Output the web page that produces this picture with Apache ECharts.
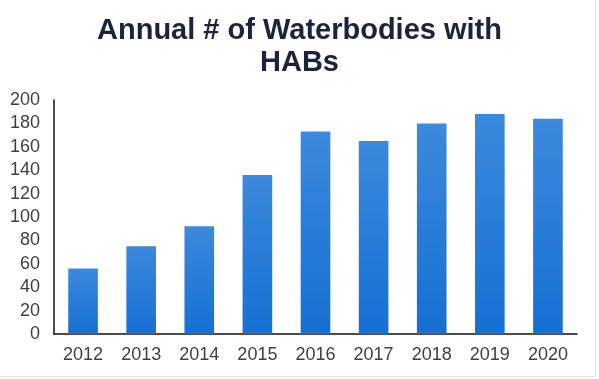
<!DOCTYPE html>
<html><head><meta charset="utf-8">
<script src="https://cdn.jsdelivr.net/npm/echarts@6/dist/echarts.min.js"></script>
<style>html,body{margin:0;padding:0;background:#fff}#c{width:599px;height:379px}</style>
</head><body><div id="c"></div>
<script>
var categories = ['2012','2013','2014','2015','2016','2017','2018','2019','2020'];
var values = [56, 75, 92, 136, 173, 165, 180, 188, 184];
var yTicks = [0, 20, 40, 60, 80, 100, 120, 140, 160, 180, 200];

var chart = echarts.init(document.getElementById('c'), null, {renderer:'canvas'});
chart.setOption({
  animation: false,
  backgroundColor: '#fff',
  title: {
    text: 'Annual # of Waterbodies with\nHABs',
    left: 'center', top: 10,
    textStyle: {fontFamily: 'Liberation Sans, Arial, sans-serif', fontSize: 29, fontWeight: 'bold', color: '#1b2438', lineHeight: 32}
  },
  grid: {left: 54, right: 22, top: 100, bottom: 45, containLabel: false},
  xAxis: {
    type: 'category', data: categories,
    axisLine: {lineStyle: {color: '#111', width: 1.5}},
    axisTick: {show: false},
    axisLabel: {color: '#404040', fontSize: 18, fontFamily: 'Liberation Sans, Arial, sans-serif', margin: 12}
  },
  yAxis: {
    type: 'value', min: yTicks[0], max: yTicks[yTicks.length-1], interval: 20,
    axisLine: {show: true, lineStyle: {color: '#111', width: 1.5}},
    axisTick: {show: false},
    splitLine: {show: false},
    axisLabel: {color: '#404040', fontSize: 18, fontFamily: 'Liberation Sans, Arial, sans-serif', margin: 14}
  },
  series: [{
    type: 'bar', data: values, barWidth: '51%',
    itemStyle: {
      color: new echarts.graphic.LinearGradient(0, 0, 0, 1, [
        {offset: 0, color: '#3c89dd'}, {offset: 1, color: '#1570d3'}
      ])
    }
  }],
  graphic: [
    {type: 'line', shape: {x1: 595.5, y1: 0, x2: 595.5, y2: 376}, style: {stroke: '#e2e2e2', lineWidth: 1}},
    {type: 'line', shape: {x1: 0, y1: 376.5, x2: 596, y2: 376.5}, style: {stroke: '#e2e2e2', lineWidth: 1}}
  ]
});
</script></body></html>
